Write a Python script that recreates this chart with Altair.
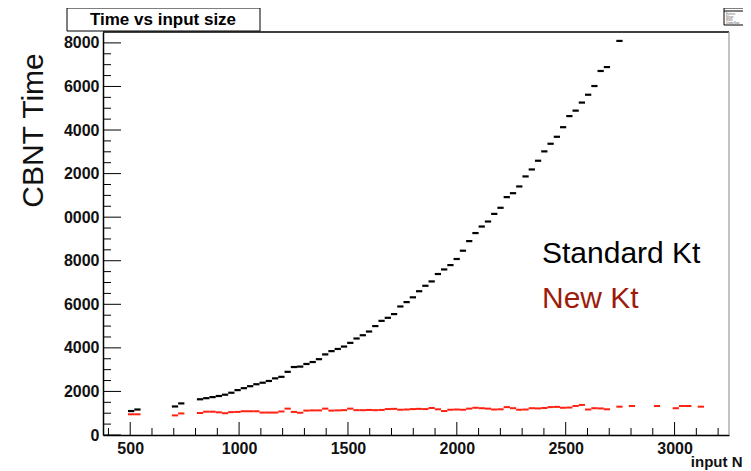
import altair as alt
import pandas as pd

# Histogram definition (x axis range of the ROOT histogram)
N_BINS = 100
X_MIN, X_MAX = 375, 3250
Y_MIN, Y_MAX = 0, 18500
BIN_W = (X_MAX - X_MIN) / N_BINS

# Standard Kt (black) - filled bins and their contents
std_bins = [4, 5, 11, 12] + list(range(15, 81)) + [82]
std_vals = [1100, 1170, 1310, 1450,
            1640, 1690, 1740, 1790, 1850, 1940, 2060, 2150, 2240, 2330,
            2400, 2480, 2600, 2670, 2900, 3120, 3140, 3260, 3350, 3480,
            3700, 3850, 3950, 4060, 4230, 4430, 4580, 4750, 5000, 5240,
            5380, 5550, 5900, 6100, 6320, 6600, 6850, 7050, 7390, 7600,
            7800, 8080, 8460, 8900, 9270, 9570, 9800, 10150, 10430, 10920,
            11100, 11410, 11870, 12190, 12590, 13020, 13370, 13690, 14130, 14640,
            14890, 15260, 15620, 16020, 16710, 16890,
            18090]

# New Kt (red)
new_bins = [4, 5, 11, 12] + list(range(15, 81)) + [82, 84, 88, 91, 92, 93, 95]
new_vals = [950, 950, 900, 990,
            1010, 1070, 1070, 1040, 1000, 1050, 1060, 1090, 1090, 1090,
            1030, 1030, 1030, 1080, 1210, 1060, 1020, 1120, 1130, 1130,
            1210, 1120, 1130, 1140, 1210, 1140, 1140, 1150, 1140, 1150,
            1190, 1200, 1160, 1170, 1190, 1200, 1190, 1240, 1180, 1100,
            1160, 1170, 1160, 1210, 1250, 1230, 1210, 1170, 1180, 1280,
            1230, 1160, 1170, 1230, 1220, 1240, 1280, 1290, 1250, 1260,
            1330, 1380, 1170, 1230, 1220, 1180,
            1300, 1330, 1330, 1230, 1330, 1330, 1300]

x_major = [500, 1000, 1500, 2000, 2500, 3000]
x_minor = [v for v in range(400, 3201, 100) if v % 500 != 0]
y_major = list(range(0, 18001, 2000))
y_minor = [v for v in range(500, 18001, 500) if v % 2000 != 0]

legend_names = ["Standard Kt", "New Kt"]
legend_colors = ["#000000", "#9c1c0c"]
series_colors = ["#000000", "#ff2010"]
stats_labels = ["Entries", "Mean", "RMS", "Underflow"]

W, H = 626, 403
FONT = "Liberation Sans"


def hist_df(bins, vals):
    return pd.DataFrame({
        "lo": [X_MIN + b * BIN_W for b in bins],
        "hi": [X_MIN + (b + 1) * BIN_W for b in bins],
        "val": vals,
    })


xscale = alt.Scale(domain=[X_MIN, X_MAX], nice=False, zero=False)
yscale = alt.Scale(domain=[Y_MIN, Y_MAX], nice=False, zero=False)

xaxis = alt.Axis(values=x_major, format="d", labelFont=FONT, labelFontWeight="bold",
                 labelFontSize=16, labelColor="#111111", ticks=False, labelPadding=5,
                 domainColor="#000000", domainWidth=1.5, grid=False,
                 title="input N", titleFont=FONT, titleFontSize=15, titleFontWeight="bold",
                 titleColor="#111111", titleAnchor="end", titleAlign="right",
                 titleBaseline="alphabetic", titleX=W + 13, titleY=31)
yaxis = alt.Axis(values=y_major, labelFont=FONT, labelFontWeight="bold",
                 labelFontSize=16, labelColor="#111111", ticks=False, labelPadding=4,
                 labelExpr="datum.value >= 10000 ? substring(toString(datum.value), 1) : toString(datum.value)",
                 domainColor="#000000", domainWidth=1.5, grid=False,
                 title="CBNT Time", titleFont=FONT, titleFontSize=30, titleFontWeight="normal",
                 titleColor="#111111", titleAngle=270, titleAlign="center",
                 titleBaseline="alphabetic", titleX=-61, titleY=98)


def X(f):
    return alt.X(f, scale=xscale, axis=xaxis)


def Y(f):
    return alt.Y(f, scale=yscale, axis=yaxis)


std_layer = alt.Chart(hist_df(std_bins, std_vals)).mark_rule(
    color=series_colors[0], strokeWidth=2.2).encode(x=X("lo:Q"), x2="hi:Q", y=Y("val:Q"))
new_layer = alt.Chart(hist_df(new_bins, new_vals)).mark_rule(
    color=series_colors[1], strokeWidth=2).encode(x=X("lo:Q"), x2="hi:Q", y=Y("val:Q"))

xt_major = alt.Chart(pd.DataFrame({"lo": x_major})).mark_rule(color="#000", strokeWidth=1).encode(
    x=X("lo:Q"), y=alt.value(H), y2=alt.value(H - 13))
xt_minor = alt.Chart(pd.DataFrame({"lo": x_minor})).mark_rule(color="#000", strokeWidth=1).encode(
    x=X("lo:Q"), y=alt.value(H), y2=alt.value(H - 7))
yt_major = alt.Chart(pd.DataFrame({"val": y_major})).mark_rule(color="#000", strokeWidth=1).encode(
    y=Y("val:Q"), x=alt.value(0), x2=alt.value(18))
yt_minor = alt.Chart(pd.DataFrame({"val": y_minor})).mark_rule(color="#000", strokeWidth=1).encode(
    y=Y("val:Q"), x=alt.value(0), x2=alt.value(8))

one = pd.DataFrame({"a": [0]})
frame_top = alt.Chart(one).mark_rule(color="#000", strokeWidth=1.5).encode(
    x=alt.value(0), x2=alt.value(W), y=alt.value(0))
frame_right = alt.Chart(one).mark_rule(color="#9a9a9a", strokeWidth=1.2).encode(
    x=alt.value(W), y=alt.value(0), y2=alt.value(H))

title_box = alt.Chart(one).mark_rect(fill="white", stroke="#000", strokeWidth=1).encode(
    x=alt.value(-36), x2=alt.value(157), y=alt.value(-24), y2=alt.value(-1))
title_text = alt.Chart(pd.DataFrame({"t": ["Time vs input size"]})).mark_text(
    font=FONT, fontSize=17, fontWeight="bold", color="#000", align="center",
    baseline="alphabetic").encode(text="t:N", x=alt.value(60), y=alt.value(-7))

stats_box = alt.Chart(one).mark_rect(fill="white", stroke="#000", strokeWidth=1).encode(
    x=alt.value(621), x2=alt.value(660), y=alt.value(-24), y2=alt.value(-7))
stats_head = alt.Chart(one).mark_rule(color="#000", strokeWidth=1).encode(
    x=alt.value(621), x2=alt.value(660), y=alt.value(-21))
stats_layers = [
    alt.Chart(pd.DataFrame({"t": [lab]})).mark_text(
        font=FONT, fontSize=3, color="#666", align="left", baseline="middle").encode(
        text="t:N", x=alt.value(623), y=alt.value(-18 + 3 * k))
    for k, lab in enumerate(stats_labels)
]

leg1 = alt.Chart(pd.DataFrame({"t": [legend_names[0]]})).mark_text(
    font=FONT, fontSize=30, color=legend_colors[0], align="left", baseline="alphabetic").encode(
    text="t:N", x=alt.value(439), y=alt.value(231))
leg2 = alt.Chart(pd.DataFrame({"t": [legend_names[1]]})).mark_text(
    font=FONT, fontSize=30, color=legend_colors[1], align="left", baseline="alphabetic").encode(
    text="t:N", x=alt.value(439), y=alt.value(276))

chart = alt.layer(
    std_layer, new_layer, xt_major, xt_minor, yt_major, yt_minor,
    frame_top, frame_right, title_box, title_text, stats_box, stats_head,
    *stats_layers, leg1, leg2,
).properties(
    width=W, height=H,
    autosize=alt.AutoSizeParams(type="none"),
    padding={"left": 95, "top": 24, "right": 14, "bottom": 36},
    background="white",
).configure_view(strokeWidth=0)

chart.save("out.html", embed_options={"renderer": "svg", "actions": False})
